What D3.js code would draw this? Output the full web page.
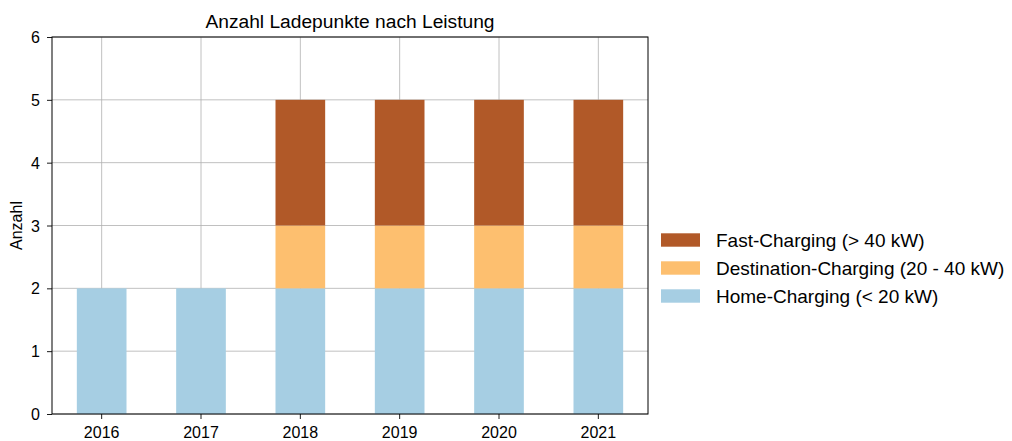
<!DOCTYPE html>
<html><head><meta charset="utf-8">
<script src="https://cdn.jsdelivr.net/npm/d3@7"></script>
<style>body{margin:0;background:#fff}svg{font-family:"Liberation Sans",Arial,sans-serif}</style>
</head><body><svg id="c" width="1012" height="441"></svg>
<script>
const years = ["2016","2017","2018","2019","2020","2021"];
const home = [2,2,2,2,2,2];
const destination = [0,0,1,1,1,1];
const fast = [0,0,2,2,2,2];
const seriesNames = ["Home-Charging (< 20 kW)","Destination-Charging (20 - 40 kW)","Fast-Charging (> 40 kW)"];
const colors = ["#a6cee3","#fdbf6f","#b15928"];
const yTicks = [0,1,2,3,4,5,6];

const svg = d3.select("#c");
const L=52,R=648,T=37,B=414;
const x = d3.scaleBand().domain(years).range([L,R]).paddingInner(0.5).paddingOuter(0.25);
const y = d3.scaleLinear().domain([0,6]).range([B,T]);

// grid
const g = svg.append("g");
g.selectAll(".vg").data(years).join("line").attr("x1",d=>x(d)+x.bandwidth()/2).attr("x2",d=>x(d)+x.bandwidth()/2)
 .attr("y1",T).attr("y2",B).attr("stroke","#b0b0b0").attr("stroke-width",0.8);
g.selectAll(".hg").data(yTicks).join("line").attr("x1",L).attr("x2",R).attr("y1",d=>y(d)).attr("y2",d=>y(d))
 .attr("stroke","#b0b0b0").attr("stroke-width",0.8);

const rows = years.map((yr,i)=>({year:yr,h:home[i],d:destination[i],f:fast[i]}));
const stack = d3.stack().keys(["h","d","f"])(rows);
svg.append("g").selectAll("g").data(stack).join("g").attr("fill",(d,i)=>colors[i])
 .selectAll("rect").data(d=>d).join("rect")
 .attr("x",d=>x(d.data.year)).attr("width",x.bandwidth())
 .attr("y",d=>y(d[1])).attr("height",d=>y(d[0])-y(d[1]));

// axes
const xa = svg.append("g").attr("transform",`translate(0,${B})`).call(d3.axisBottom(x).tickSize(5).tickSizeOuter(0));
const ya = svg.append("g").attr("transform",`translate(${L},0)`).call(d3.axisLeft(y).tickValues(yTicks).tickFormat(d3.format("d")).tickSize(5).tickSizeOuter(0));
[xa,ya].forEach(a=>{a.select(".domain").remove();a.selectAll("text").attr("font-size",16).attr("fill","#000").attr("font-family","Liberation Sans, Arial, sans-serif");a.selectAll("line").attr("stroke","#000").attr("stroke-width",0.9);});
xa.selectAll("text").attr("y",24).attr("dy",0);
ya.selectAll("text").attr("x",-12).attr("dy","0.35em");
svg.append("rect").attr("x",L).attr("y",T).attr("width",R-L).attr("height",B-T).attr("fill","none").attr("stroke","#000").attr("stroke-width",1);

svg.append("text").attr("x",(L+R)/2).attr("y",T-9).attr("text-anchor","middle").attr("font-size",19.2).text("Anzahl Ladepunkte nach Leistung");
svg.append("text").attr("transform",`translate(22,${(T+B)/2}) rotate(-90)`).attr("text-anchor","middle").attr("font-size",16).text("Anzahl");

// legend (top-to-bottom reversed)
const leg = svg.append("g");
const order=[2,1,0];
order.forEach((k,i)=>{
 const yy=240+i*28;
 leg.append("rect").attr("x",661).attr("y",yy-6.7).attr("width",39).attr("height",13.4).attr("fill",colors[k]);
 leg.append("text").attr("x",716).attr("y",yy+7).attr("font-size",19).text(seriesNames[k]);
});
</script></body></html>
